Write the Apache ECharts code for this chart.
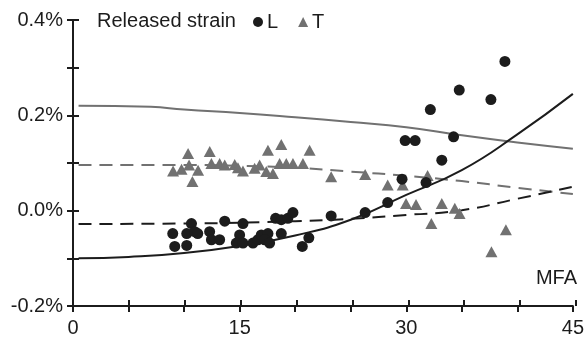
<!DOCTYPE html>
<html>
<head>
<meta charset="utf-8">
<script src="https://cdn.jsdelivr.net/npm/echarts@6/dist/echarts.min.js"></script>
<style>
  html, body { margin: 0; padding: 0; background: #fff; }
  #chart { width: 587px; height: 338px; }
</style>
</head>
<body>
<div id="chart"></div>
<script>
// Released strain (%) against microfibril angle (MFA, degrees)
const xTickLabels = [0, 15, 30, 45];
const yTickLabels = [-0.2, 0.0, 0.2, 0.4];

// Measured longitudinal strain [MFA, strain %]
const strainL = [
  [8.98, -0.048], [9.16, -0.075], [10.24, -0.073], [10.66, -0.027], [10.24, -0.048],
  [10.96, -0.044], [11.23, -0.048], [12.3, -0.044], [12.46, -0.061], [13.2, -0.061],
  [13.66, -0.022], [15.3, -0.027], [15.0, -0.051], [14.7, -0.068], [15.3, -0.068],
  [16.2, -0.068], [16.65, -0.061], [16.95, -0.051], [17.55, -0.048], [17.25, -0.061],
  [17.7, -0.068], [18.24, -0.016], [18.75, -0.019], [19.34, -0.016], [19.8, -0.004],
  [18.75, -0.048], [20.64, -0.075], [21.23, -0.057], [23.24, -0.011], [26.3, -0.004],
  [28.33, 0.017], [29.62, 0.066], [31.78, 0.059], [33.2, 0.106], [29.9, 0.147],
  [30.8, 0.147], [34.26, 0.155], [32.17, 0.212], [34.77, 0.253], [37.62, 0.233],
  [38.88, 0.313]
];

// Measured tangential strain [MFA, strain %]
const strainT = [
  [10.36, 0.120], [9.01, 0.083], [9.77, 0.087], [10.45, 0.096], [10.75, 0.061],
  [11.26, 0.085], [12.31, 0.124], [12.46, 0.099], [13.2, 0.099], [13.66, 0.096],
  [14.56, 0.097], [14.85, 0.090], [15.3, 0.083], [16.35, 0.089], [16.8, 0.096],
  [17.4, 0.082], [18.0, 0.078], [17.55, 0.127], [18.75, 0.139], [18.6, 0.099],
  [19.2, 0.099], [19.8, 0.099], [20.7, 0.099], [21.3, 0.127], [23.24, 0.071],
  [26.3, 0.076], [28.33, 0.054], [29.68, 0.054], [31.92, 0.074], [29.98, 0.015],
  [30.88, 0.013], [33.2, 0.015], [34.37, 0.005], [34.8, -0.006], [32.26, -0.027],
  [37.67, -0.086], [38.97, -0.040]
];

// Model curves [MFA, strain %]
const modelLSolid = [
  [0.5, -0.100], [5, -0.097], [10, -0.089], [15, -0.074], [20, -0.052],
  [25, -0.019], [30, 0.033], [35, 0.085], [40, 0.160], [45, 0.245]
];
const modelLDashed = [
  [0.5, -0.028], [10, -0.027], [20, -0.022], [25, -0.017], [30, -0.009],
  [35, 0.001], [40, 0.025], [45, 0.050]
];
const modelTSolid = [
  [0.5, 0.220], [7, 0.218], [10, 0.212], [15, 0.205], [20, 0.196],
  [25, 0.186], [30, 0.175], [35, 0.158], [40, 0.143], [45, 0.130]
];
const modelTDashed = [
  [0.5, 0.096], [10, 0.096], [15, 0.094], [20, 0.090], [25, 0.082],
  [30, 0.073], [35, 0.062], [40, 0.048], [45, 0.035]
];

const FONT = 'Liberation Sans, Arial, Helvetica, sans-serif';
const FS = 20;
const DARK = '#1c1c1c';
const GREY = '#717171';

const chart = echarts.init(document.getElementById('chart'), null, { renderer: 'canvas' });

// Two identical grids: the first carries the axes with outward ticks and labels,
// the second one adds inward ticks so every tick crosses its axis line.
const gridRect = { left: 73, right: 11, top: 20, bottom: 32 };
const xBase = { type: 'value', min: 0, max: 45, interval: 5, position: 'bottom', splitLine: { show: false } };
const yBase = { type: 'value', min: -0.2, max: 0.4, interval: 0.1, position: 'left', splitLine: { show: false } };
const tickStyle = { color: DARK, width: 2 };
const lineOn = { show: true, onZero: false, lineStyle: { color: DARK, width: 2 } };
const lineOff = { show: false, onZero: false };

chart.setOption({
  animation: false,
  backgroundColor: '#fff',
  title: {
    text: 'Released strain',
    left: 97, top: 11, padding: 0,
    textStyle: { fontFamily: FONT, fontSize: FS, fontWeight: 'normal', color: DARK }
  },
  legend: {
    data: ['L', 'T'],
    left: 253, top: 12, padding: 0,
    itemWidth: 10, itemHeight: 10, itemGap: 20,
    textStyle: { fontFamily: FONT, fontSize: FS, color: DARK, padding: [0, 0, 0, -1] }
  },
  grid: [Object.assign({}, gridRect), Object.assign({}, gridRect)],
  xAxis: [
    Object.assign({}, xBase, {
      gridIndex: 0,
      axisLine: lineOn,
      axisTick: { show: true, inside: false, length: 6, interval: 0, lineStyle: tickStyle },
      axisLabel: {
        margin: 12, fontFamily: FONT, fontSize: FS, color: DARK, interval: 0,
        formatter: v => (xTickLabels.includes(Math.round(v)) ? String(Math.round(v)) : '')
      }
    }),
    Object.assign({}, xBase, {
      gridIndex: 1,
      axisLine: lineOff,
      axisTick: { show: true, inside: true, length: 6, interval: 0, lineStyle: tickStyle },
      axisLabel: { show: false }
    })
  ],
  yAxis: [
    Object.assign({}, yBase, {
      gridIndex: 0,
      axisLine: lineOn,
      axisTick: { show: true, inside: false, length: 6, interval: 0, lineStyle: tickStyle },
      axisLabel: {
        margin: 10, fontFamily: FONT, fontSize: FS, color: DARK, interval: 0,
        formatter: v => {
          const r = Math.round(v * 10) / 10;
          return yTickLabels.some(t => Math.abs(t - r) < 1e-9) ? r.toFixed(1) + '%' : '';
        }
      }
    }),
    Object.assign({}, yBase, {
      gridIndex: 1,
      axisLine: lineOff,
      axisTick: { show: true, inside: true, length: 6, interval: 0, lineStyle: tickStyle },
      axisLabel: { show: false }
    })
  ],
  graphic: [{
    type: 'text', right: 10, top: 268,
    style: { text: 'MFA', font: FS + 'px ' + FONT, fill: DARK }
  }],
  series: [
    {
      name: 'T model', type: 'line', data: modelTSolid, smooth: true, symbol: 'none',
      lineStyle: { color: GREY, width: 2 }, z: 2
    },
    {
      name: 'T model dashed', type: 'line', data: modelTDashed, smooth: true, symbol: 'none',
      lineStyle: { color: GREY, width: 2, type: [13, 8] }, z: 2
    },
    {
      name: 'L model', type: 'line', data: modelLSolid, smooth: true, symbol: 'none',
      lineStyle: { color: DARK, width: 2 }, z: 2
    },
    {
      name: 'L model dashed', type: 'line', data: modelLDashed, smooth: true, symbol: 'none',
      lineStyle: { color: DARK, width: 2, type: [13, 8] }, z: 2
    },
    {
      name: 'T', type: 'scatter', data: strainT, symbol: 'triangle', symbolSize: [12, 11],
      itemStyle: { color: GREY, opacity: 1 }, z: 3
    },
    {
      name: 'L', type: 'scatter', data: strainL, symbol: 'circle', symbolSize: 11,
      itemStyle: { color: DARK, opacity: 1 }, z: 4
    }
  ]
});
</script>
</body>
</html>
